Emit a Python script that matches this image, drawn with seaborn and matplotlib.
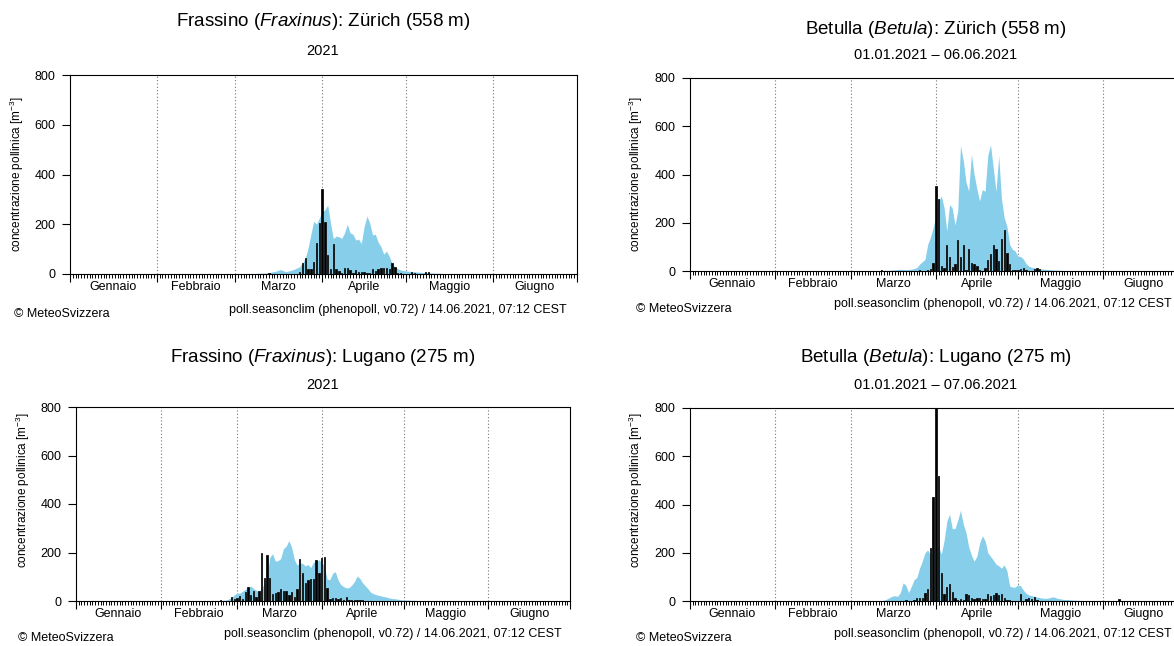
import numpy as np
import pandas as pd
import seaborn as sns
import matplotlib.pyplot as plt

W, H = 1174, 646

months = ['Gennaio', 'Febbraio', 'Marzo', 'Aprile', 'Maggio', 'Giugno']
month_starts = [0, 31, 59, 90, 120, 151, 181]
yticks = [0, 200, 400, 600, 800]

# Frassino, Zürich: climatology (blue area) and 2021 daily values (bars)
fz_clim_start = 60
fz_clim = [1, 1, 1, 1, 2, 2, 2, 3, 3, 3, 4, 5, 8, 10, 13, 18, 14, 9, 12, 15,
           19, 24, 29, 45, 63, 105, 160, 212, 200, 225, 250, 258, 277, 205, 142, 152, 150, 143, 165, 200,
           165, 160, 137, 140, 123, 190, 233, 205, 157, 160, 128, 110, 80, 92, 70, 42, 28, 22, 16, 14,
           12, 11, 10, 9, 8, 7, 6, 6, 5, 4, 4, 3, 3, 2, 2, 1]
fz_obs_start = 71
fz_obs = [4, 0, 0, 0, 0, 0, 0, 0, 0, 0, 0,
          8, 46, 63, 19, 20, 50, 126, 206, 340, 208, 76, 20, 121, 20, 12, 3, 24, 24, 15,
          3, 16, 8, 10, 7, 5, 4, 20, 13, 20, 23, 23, 23, 20, 46, 27, 5, 3, 0, 0,
          0, 7, 5, 0, 0, 0, 9, 9]

# Betulla, Zürich
bz_clim_start = 60
bz_clim = [1, 1, 1, 1, 1, 1, 1, 1, 1, 1,
           2, 3, 3, 3, 4, 5, 6, 7, 6, 6, 6, 8, 10, 14, 28, 38, 48, 110, 140, 180,
           230, 290, 311, 262, 166, 276, 260, 190, 250, 520, 460, 370, 331, 483, 400, 340, 290, 338, 330, 480,
           522, 428, 330, 477, 300, 221, 185, 110, 90, 83, 62, 60, 50, 30, 20, 15, 13, 11, 9, 8,
           7, 6, 5, 4, 4, 3, 3, 2, 2, 2, 1]
bz_obs_start = 70
bz_obs = [5, 0, 0, 0, 0, 0, 0, 0, 0, 0, 0, 0, 0, 0, 3, 0, 0,
          3, 10, 32, 352, 297, 21, 11, 108, 59, 17, 28, 130, 57, 106, 3, 90, 35,
          30, 19, 3, 2, 11, 46, 69, 106, 90, 41, 131, 169, 76, 30, 5, 5, 3, 10, 11, 3,
          0, 0, 7, 11, 7]

# Frassino, Lugano
fl_clim_start = 50
fl_clim = [1, 1, 1, 2, 3, 4, 8, 15, 25, 33, 32, 40, 48, 53, 62, 52, 44, 38, 52, 72,
           100, 180, 195, 165, 166, 175, 215, 226, 249, 222, 170, 148, 158, 155, 145, 150, 138, 160, 162, 170,
           160, 145, 90, 88, 114, 121, 87, 68, 60, 54, 55, 65, 80, 103, 93, 75, 62, 50, 36, 30,
           26, 23, 20, 18, 15, 12, 10, 9, 7, 5, 4, 4, 4, 3, 3, 2, 2, 1, 1]
fl_obs_start = 53
fl_obs = [4, 0, 0, 0, 15, 10, 12, 21, 10, 38, 59, 23, 41, 18, 40, 197, 93, 191, 93,
          29, 34, 37, 48, 41, 40, 26, 37, 18, 49, 172, 114, 73, 87, 89, 89, 169, 117, 179, 180,
          55, 10, 12, 12, 10, 12, 4, 15, 3, 3, 3, 3, 3, 3]

# Betulla, Lugano
bl_clim_start = 60
bl_clim = [1, 1, 1, 1, 1, 1, 2, 2, 2, 2,
           2, 3, 8, 14, 20, 22, 19, 35, 75, 65, 35, 60, 88, 97, 135, 165, 200, 212, 190, 205,
           223, 223, 195, 250, 330, 360, 300, 300, 335, 376, 320, 285, 225, 190, 165, 185, 240, 270, 250, 200,
           185, 170, 153, 146, 136, 150, 125, 63, 57, 58, 67, 63, 45, 32, 25, 22, 20, 16, 14, 12,
           11, 12, 15, 17, 13, 10, 8, 6, 6, 5, 4, 3, 3, 2, 2, 1]
bl_obs_start = 79
bl_obs = [3, 0, 0, 4, 14, 11, 14, 35, 49, 218, 431, 850, 518, 114, 31, 58, 72, 39, 11,
          6, 7, 6, 28, 25, 14, 10, 14, 14, 8, 8, 31, 22, 25, 33, 25, 28, 14, 6, 6,
          0, 0, 0, 28, 0, 7, 14, 8, 17, 4]
bl_late_day, bl_late_val = 157, 8

footer_left = '© MeteoSvizzera'
footer_right = 'poll.seasonclim (phenopoll, v0.72) / 14.06.2021, 07:12 CEST'
ylab = 'concentrazione pollinica [m$^{-3}$]'

sns.set_style('ticks')
plt.rcParams['font.family'] = ['Liberation Sans', 'DejaVu Sans']
plt.rcParams['mathtext.fontset'] = 'custom'
plt.rcParams['mathtext.rm'] = 'Liberation Sans'
plt.rcParams['mathtext.it'] = 'Liberation Sans:italic'
plt.rcParams['mathtext.bf'] = 'Liberation Sans:bold'
plt.rcParams['text.color'] = 'black'
plt.rcParams['xtick.color'] = 'black'
plt.rcParams['ytick.color'] = 'black'
plt.rcParams['xtick.labelcolor'] = 'black'
plt.rcParams['ytick.labelcolor'] = 'black'

fig = plt.figure(figsize=(W / 100, H / 100), dpi=100)


def series(start, vals):
    y = np.zeros(181)
    y[start:start + len(vals)] = vals
    return y


def fx(x):
    return x / W


def fy(y):
    return 1 - y / H


def panel(l, r, t, b, clim, obs):
    ax = fig.add_axes([l / W, 1 - b / H, (r - l) / W, (b - t) / H])
    days = np.arange(181)
    for m in month_starts[1:-1]:
        ax.axvline(m, color='#777777', ls=(0, (1, 2)), lw=0.8, zorder=0)
    ax.fill_between(days, clim, color='#87CEEB', lw=0, zorder=1)
    df = pd.DataFrame({'day': days, 'val': obs})
    sns.barplot(data=df, x='day', y='val', native_scale=True, color='black',
                saturation=1, width=0.5, errorbar=None, linewidth=0.6,
                edgecolor='#111111', ax=ax, zorder=2)
    ax.set_xlim(0, 181)
    ax.set_ylim(0, 800)
    ax.set_xlabel('')
    ax.set_ylabel('')
    ax.set_yticks(yticks)
    ax.set_xticks(month_starts)
    ax.set_xticklabels([])
    ax.set_xticks(np.arange(182), minor=True)
    ax.tick_params(axis='y', length=5.5, width=0.8, pad=5, labelsize=9)
    ax.tick_params(axis='x', which='major', length=5.5, width=0.8)
    ax.tick_params(axis='x', which='minor', length=2.6, width=0.7)
    for s in ax.spines.values():
        s.set_visible(True)
        s.set_color('black')
        s.set_linewidth(0.8)
    for i, name in enumerate(months):
        mid = (month_starts[i] + month_starts[i + 1]) / 2
        ax.annotate(name, xy=(mid, 0), xycoords=('data', 'axes fraction'),
                    xytext=(0, -5), textcoords='offset points',
                    ha='center', va='top', fontsize=9)
    return ax


# top left
panel(70, 577, 75, 274, series(fz_clim_start, fz_clim), series(fz_obs_start, fz_obs))
fig.text(fx(323), fy(22), 'Frassino ($\\mathit{Fraxinus}$): Zürich (558 m)', ha='center', va='center', fontsize=13.5)
fig.text(fx(323), fy(51), '2021', ha='center', va='center', fontsize=10.5)
fig.text(fx(17), fy(174), ylab, rotation=90, ha='center', va='center', fontsize=8.5)
fig.text(fx(14), fy(314), footer_left, ha='left', va='center', fontsize=9)
fig.text(fx(567), fy(310), footer_right, ha='right', va='center', fontsize=9)

# top right
panel(690, 1184.5, 78, 271, series(bz_clim_start, bz_clim), series(bz_obs_start, bz_obs))
fig.text(fx(936), fy(29), 'Betulla ($\\mathit{Betula}$): Zürich (558 m)', ha='center', va='center', fontsize=13.5)
fig.text(fx(936), fy(55), '01.01.2021 – 06.06.2021', ha='center', va='center', fontsize=10.5)
fig.text(fx(636), fy(174), ylab, rotation=90, ha='center', va='center', fontsize=8.5)
fig.text(fx(636), fy(309), footer_left, ha='left', va='center', fontsize=9)
fig.text(fx(1172), fy(304), footer_right, ha='right', va='center', fontsize=9)

# bottom left
panel(76, 570, 407, 601, series(fl_clim_start, fl_clim), series(fl_obs_start, fl_obs))
fig.text(fx(323), fy(357), 'Frassino ($\\mathit{Fraxinus}$): Lugano (275 m)', ha='center', va='center', fontsize=13.5)
fig.text(fx(323), fy(385), '2021', ha='center', va='center', fontsize=10.5)
fig.text(fx(23), fy(490), ylab, rotation=90, ha='center', va='center', fontsize=8.5)
fig.text(fx(18), fy(638), footer_left, ha='left', va='center', fontsize=9)
fig.text(fx(562), fy(634), footer_right, ha='right', va='center', fontsize=9)

# bottom right
bl_all = series(bl_obs_start, bl_obs)
bl_all[bl_late_day] = bl_late_val
panel(690, 1184.5, 408, 601, series(bl_clim_start, bl_clim), bl_all)
fig.text(fx(936), fy(358), 'Betulla ($\\mathit{Betula}$): Lugano (275 m)', ha='center', va='center', fontsize=13.5)
fig.text(fx(936), fy(385), '01.01.2021 – 07.06.2021', ha='center', va='center', fontsize=10.5)
fig.text(fx(636), fy(490), ylab, rotation=90, ha='center', va='center', fontsize=8.5)
fig.text(fx(636), fy(638), footer_left, ha='left', va='center', fontsize=9)
fig.text(fx(1172), fy(634), footer_right, ha='right', va='center', fontsize=9)

fig.savefig('out.png', dpi=100)
